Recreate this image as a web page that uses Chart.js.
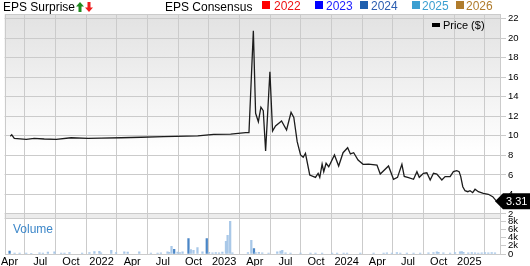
<!DOCTYPE html>
<html>
<head>
<meta charset="utf-8">
<script src="https://cdn.jsdelivr.net/npm/chart.js@4.4.1/dist/chart.umd.min.js"></script>
<style>
  html, body { margin: 0; padding: 0; background: #fff; }
  #wrap { position: relative; width: 530px; height: 266px; overflow: hidden;
          font-family: "Liberation Sans", Arial, sans-serif; }
  #chart { position: absolute; left: 0; top: 0; }
  .txt { position: absolute; white-space: nowrap; font-size: 12px; line-height: 14px; }
  .sq { position: absolute; width: 8px; height: 8px; top: 1px; }
  .arrow { position: absolute; top: 2px; }
</style>
</head>
<body>
<div id="wrap">
  <canvas id="chart" width="530" height="266"></canvas>

  <!-- header -->
  <div class="txt" style="left:3px;top:0;color:#000">EPS Surprise</div>
  <svg class="arrow" style="left:76px" width="8" height="10" viewBox="0 0 8 10">
    <polygon points="4,0 8,4.5 5.5,4.5 5.5,10 2.5,10 2.5,4.5 0,4.5" fill="#1f8a1f"/>
  </svg>
  <svg class="arrow" style="left:85px" width="8" height="10" viewBox="0 0 8 10">
    <polygon points="4,10 8,5.5 5.5,5.5 5.5,0 2.5,0 2.5,5.5 0,5.5" fill="#ee1c1c"/>
  </svg>
  <div class="txt" style="left:165px;top:0;color:#000">EPS Consensus</div>

  <div class="sq" style="left:262px;background:#ff0000"></div>
  <div class="txt" style="left:274px;top:-1px;color:#ee1111">2022</div>
  <div class="sq" style="left:315px;background:#0000ff"></div>
  <div class="txt" style="left:326px;top:-1px;color:#1a1aff">2023</div>
  <div class="sq" style="left:360px;background:#1f5fae"></div>
  <div class="txt" style="left:371px;top:-1px;color:#2a5db0">2024</div>
  <div class="sq" style="left:412px;background:#3b9fd1"></div>
  <div class="txt" style="left:422px;top:-1px;color:#3b9fd1">2025</div>
  <div class="sq" style="left:456px;background:#b07c2c"></div>
  <div class="txt" style="left:466px;top:-1px;color:#b07c2c">2026</div>

  <!-- legend -->
  <div style="position:absolute;left:432px;top:23px;width:8px;height:4px;background:#000"></div>
  <div class="txt" style="left:443px;top:18px;font-size:11px;color:#000">Price ($)</div>

  <div class="txt" style="left:13px;top:222px;color:#3d87c9">Volume</div>
</div>

<script>
// x values are months counted from Jan 2021 (Apr 2021 = 3)
const X_MIN = 2.51;
const X_MAX = 51.1;
const X_TICKS = [3, 6, 9, 12, 15, 18, 21, 24, 27, 30, 33, 36, 39, 42, 45, 48];
const X_TICK_LABELS = ["Apr", "Jul", "Oct", "2022", "Apr", "Jul", "Oct", "2023",
                       "Apr", "Jul", "Oct", "2024", "Apr", "Jul", "Oct", "2025"];

const PRICE_TICKS = [2, 4, 6, 8, 10, 12, 14, 16, 18, 20, 22];
const VOLUME_TICKS = [0, 2000, 4000, 6000, 8000];
const VOLUME_TICK_LABELS = ["0", "2k", "4k", "6k", "8k"];

// price line
const PRICE_MONTHS = [
  3.07, 3.21, 3.46, 4.63, 5.41, 6.39, 7.56, 9.02, 10.68, 11.95, 13.9, 15.86,
  18.1, 21.42, 22.98, 24.64, 26.1, 26.43,
  26.86, 27.08, 27.35, 27.6, 27.83, 28.06, 28.48, 28.74, 29.03, 29.62, 30.11,
  30.55, 30.82, 31.15, 31.48, 31.74, 31.96, 32.38, 32.94, 33.2, 33.36, 33.59,
  33.75, 33.98, 34.24, 34.8, 35.21, 35.64, 36.09, 36.36, 36.68, 37.11, 37.6,
  38.14, 38.96, 39.28, 40.09, 40.58, 40.97, 41.4, 41.63, 42.05, 42.54, 42.87,
  43.1, 43.51, 43.84, 44.17, 44.49, 44.82, 45.31, 45.63, 46.12, 46.44, 46.77,
  47.0, 47.16, 47.36, 47.58, 47.85, 48.07, 48.33, 48.56, 48.88, 49.37, 49.86,
  50.29, 50.51, 50.66
];
const PRICE_VALUES = [
  9.95, 10.1, 9.74, 9.64, 9.74, 9.67, 9.64, 9.8, 9.74, 9.77, 9.8, 9.85,
  9.91, 9.99, 10.15, 10.18, 10.32, 10.32,
  20.75, 12.3, 11.44, 12.92, 12.57, 8.45, 16.56, 10.49, 11.0, 11.51, 10.59,
  12.4, 11.87, 9.4, 8.04, 7.8, 8.21, 5.99, 5.75, 6.16, 5.75, 7.11,
  6.33, 7.19, 6.84, 8.04, 6.91, 8.27, 8.78, 8.14, 8.27, 7.52, 7.08,
  7.11, 7.01, 6.09, 6.91, 5.55, 5.75, 7.08, 5.84, 5.73, 5.55, 6.33,
  5.75, 6.16, 6.22, 5.48, 6.16, 6.09, 5.48, 5.82, 5.82, 6.33, 6.43,
  6.33, 5.82, 4.79, 4.38, 4.28, 4.38, 4.18, 4.53, 4.28, 4.12, 4.02,
  3.77, 3.5, 3.31
];

// volume bars
const VOLUME_MONTHS = [
  3.0, 3.49, 3.98, 4.63, 5.12, 5.93, 6.26, 6.75, 7.39, 8.05, 8.37, 8.86,
  10.1, 10.81, 11.3, 11.79, 11.95, 12.95, 13.42, 14.23, 14.56, 15.69, 16.83,
  17.49, 17.81, 18.46, 18.62, 18.85, 19.11, 19.44, 19.66, 19.93, 20.51, 20.74,
  21.0, 21.39, 21.88, 22.3, 22.52, 22.86, 23.18, 23.5, 23.83, 24.18, 24.34,
  24.59, 24.81, 26.33, 26.66, 26.92, 27.08, 27.4, 27.73, 28.35, 29.2, 29.52,
  29.69, 30.01, 30.5, 31.48, 32.45, 32.94, 33.59, 34.57, 35.06, 35.7, 36.03,
  37.33, 38.63, 39.61, 39.93, 40.42, 40.91, 41.24, 41.89, 42.54, 43.19, 44.0,
  44.49, 44.82, 44.98, 45.46, 46.12, 46.6, 47.09, 47.26, 47.42, 47.9, 48.24,
  48.56, 48.88, 49.21, 49.53, 49.86, 50.19, 50.51
];
const VOLUME_VALUES = [
  740, 200, 250, 200, 150, 300, 250, 450, 500, 250, 200, 350,
  200, 350, 600, 660, 300, 900, 350, 500, 450, 500, 200,
  250, 300, 500, 400, 1880, 1150, 450, 350, 500, 3760, 1070,
  900, 1560, 500, 3760, 400, 300, 350, 300, 450, 3100, 4570,
  8000, 300, 350, 3350, 1320, 350, 400, 300, 200, 500, 740,
  900, 300, 200, 200, 250, 200, 250, 200, 250, 200, 250,
  200, 250, 200, 300, 250, 350, 200, 250, 200, 250, 300,
  350, 500, 400, 300, 250, 350, 500, 600, 400, 300, 350,
  300, 250, 300, 350, 300, 350, 300
];
// bars drawn in the darker blue (down days)
const VOLUME_DOWN_MONTHS = [3.0, 19.11, 20.51, 22.3, 26.92];

const FONT = "'Liberation Sans', Arial, sans-serif";
const GRID = "#cbcbcb";

// background gradient + pane separator, border box, last price tag
const panesPlugin = {
  id: "panes",
  beforeDraw(chart) {
    const { ctx, chartArea: a, scales } = chart;
    const priceBottom = scales.y.bottom;
    const g = ctx.createLinearGradient(0, a.top, 0, a.top + 140);
    g.addColorStop(0, "#e2e2e2");
    g.addColorStop(1, "#ffffff");
    ctx.save();
    ctx.fillStyle = g;
    ctx.fillRect(a.left, a.top, a.right - a.left, priceBottom - a.top);
    const sepTop = scales.y.getPixelForValue(2);
    ctx.fillStyle = "#ececec";
    ctx.fillRect(a.left, sepTop, a.right - a.left, priceBottom - sepTop);
    ctx.restore();
  },
  afterDatasetsDraw(chart) {
    const { ctx, chartArea: a, scales } = chart;
    ctx.save();
    ctx.strokeStyle = GRID;
    ctx.lineWidth = 1;
    ctx.beginPath();
    const yb = Math.round(scales.y.bottom) + 0.5;
    ctx.moveTo(a.left, yb);
    ctx.lineTo(a.right, yb);
    ctx.stroke();
    ctx.strokeRect(Math.round(a.left) + 0.5, Math.round(a.top) + 0.5,
                   Math.round(a.right - a.left) - 1, Math.round(a.bottom - a.top));
    ctx.restore();
  },
  afterDraw(chart) {
    const { ctx, chartArea: a, scales } = chart;
    const last = PRICE_VALUES[PRICE_VALUES.length - 1];
    const py = scales.y.getPixelForValue(last);
    const tip = a.right - 6;
    const boxL = a.right + 2;
    ctx.save();
    ctx.fillStyle = "#000";
    ctx.beginPath();
    ctx.moveTo(tip, py);
    ctx.lineTo(boxL, py - 8);
    ctx.lineTo(530, py - 8);
    ctx.lineTo(530, py + 8);
    ctx.lineTo(boxL, py + 8);
    ctx.closePath();
    ctx.fill();
    ctx.fillStyle = "#fff";
    ctx.font = "11px " + FONT;
    ctx.textBaseline = "middle";
    ctx.fillText(last.toFixed(2), boxL + 3, py + 0.5);
    ctx.restore();
  }
};

function fixedTicks(list) {
  return (scale) => { scale.ticks = list.map((v) => ({ value: v })); };
}

new Chart(document.getElementById("chart"), {
  type: "line",
  data: {
    datasets: [
      {
        type: "line",
        label: "Price ($)",
        data: PRICE_MONTHS.map((m, i) => ({ x: m, y: PRICE_VALUES[i] })),
        yAxisID: "y",
        borderColor: "#1c1c1c",
        borderWidth: 1.3,
        pointRadius: 0,
        tension: 0
      },
      {
        type: "bar",
        label: "Volume",
        data: VOLUME_MONTHS.map((m, i) => ({ x: m, y: VOLUME_VALUES[i] })),
        yAxisID: "yv",
        barThickness: 1.6,
        backgroundColor: (c) =>
          VOLUME_DOWN_MONTHS.includes(VOLUME_MONTHS[c.dataIndex]) ? "#4a86c6" : "#a9c8e8"
      }
    ]
  },
  options: {
    responsive: false,
    animation: false,
    devicePixelRatio: 1,
    layout: { padding: { left: 3.3, top: 14, right: 0, bottom: 0 } },
    plugins: { legend: { display: false }, tooltip: { enabled: false } },
    scales: {
      x: {
        type: "linear",
        min: X_MIN,
        max: X_MAX,
        offset: false,
        afterBuildTicks: fixedTicks(X_TICKS),
        afterFit: (s) => { s.height = 12; },
        ticks: {
          autoSkip: false,
          maxRotation: 0,
          padding: 1,
          color: "#000",
          font: { size: 11, family: FONT },
          callback: (v) => X_TICK_LABELS[X_TICKS.indexOf(v)]
        },
        grid: { color: GRID, drawTicks: false },
        border: { display: false }
      },
      y: {
        type: "linear",
        position: "right",
        stack: "panes",
        stackWeight: 204,
        min: 1.59,
        max: 22.46,
        afterBuildTicks: fixedTicks(PRICE_TICKS),
        afterFit: (s) => { s.width = 29; },
        ticks: {
          autoSkip: false,
          padding: 2,
          color: "#000",
          font: { size: 9.5, family: FONT },
          callback: (v) => String(v)
        },
        grid: { color: GRID, tickLength: 5 },
        border: { display: false }
      },
      yv: {
        type: "linear",
        position: "right",
        stack: "panes",
        stackWeight: 36,
        min: 0,
        max: 8800,
        afterBuildTicks: fixedTicks(VOLUME_TICKS),
        afterFit: (s) => { s.width = 29; },
        ticks: {
          autoSkip: false,
          padding: 2,
          color: "#000",
          font: { size: 9.5, family: FONT },
          callback: (v) => VOLUME_TICK_LABELS[VOLUME_TICKS.indexOf(v)]
        },
        grid: { color: GRID, tickLength: 5, drawOnChartArea: false },
        border: { display: false }
      }
    }
  },
  plugins: [panesPlugin]
});
</script>
</body>
</html>
